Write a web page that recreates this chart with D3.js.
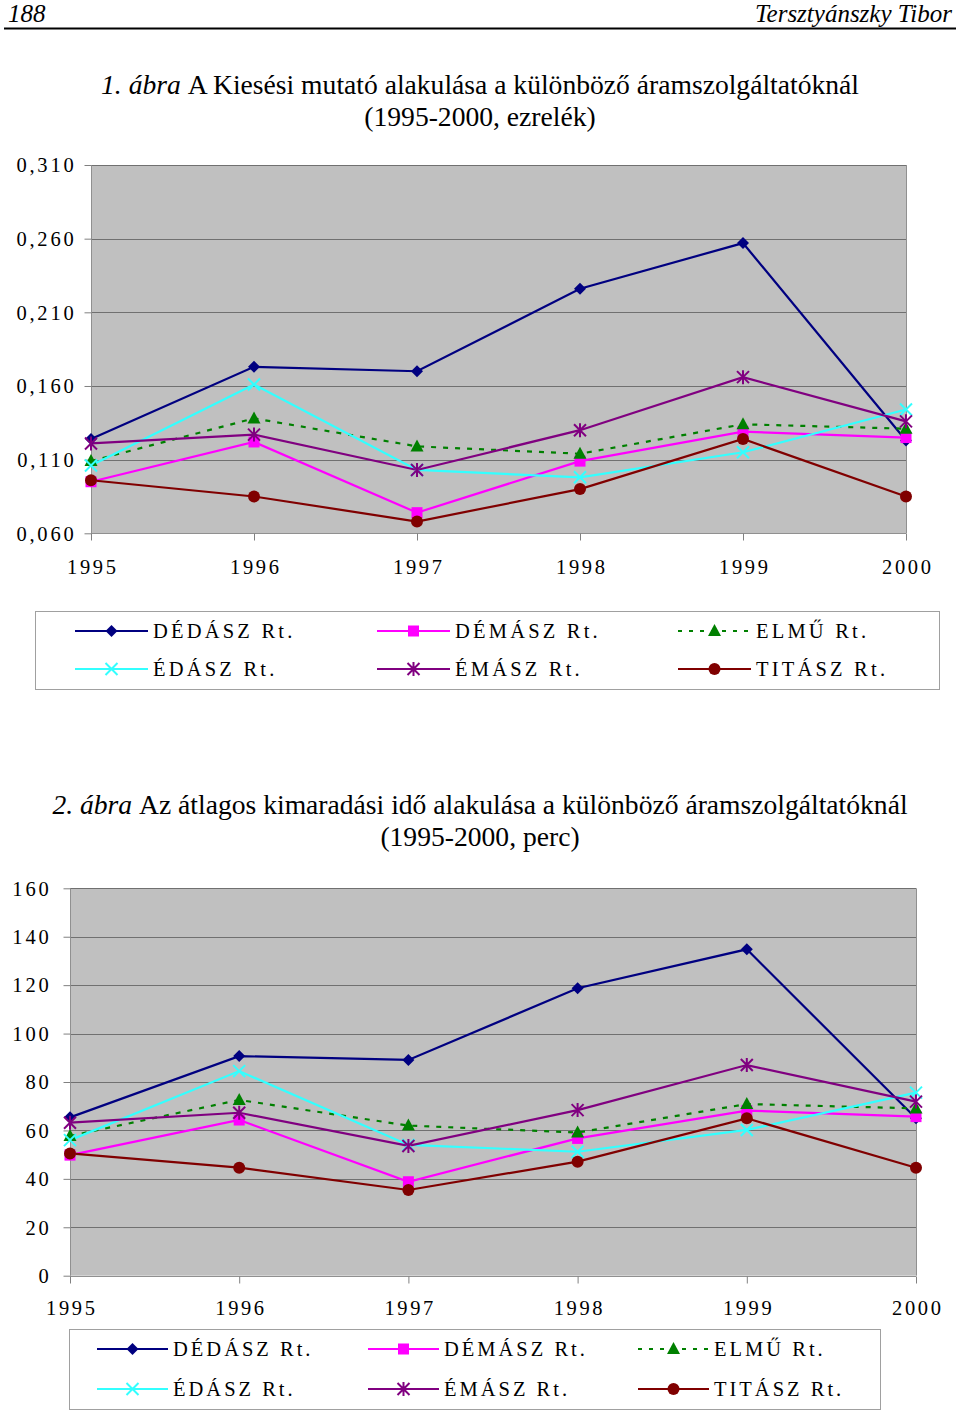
<!DOCTYPE html>
<html><head><meta charset="utf-8">
<script src="https://cdn.jsdelivr.net/npm/d3@7"></script>
<style>body{margin:0;background:#fff}svg{display:block}</style>
</head><body>
<svg id="c" width="960" height="1411"></svg>
<script>
const years = ["1995","1996","1997","1998","1999","2000"];
const seriesNames = ["DÉDÁSZ Rt.","DÉMÁSZ Rt.","ELMŰ Rt.","ÉDÁSZ Rt.","ÉMÁSZ Rt.","TITÁSZ Rt."];
// Chart 1: Kiesési mutató (ezrelék)
const dedasz1 = [0.124,0.173,0.170,0.226,0.257,0.123];
const demasz1 = [0.095,0.122,0.074,0.109,0.129,0.125];
const elmu1   = [0.109,0.138,0.119,0.114,0.134,0.131];
const edasz1  = [0.106,0.161,0.103,0.098,0.115,0.144];
const emasz1  = [0.121,0.127,0.103,0.130,0.166,0.136];
const titasz1 = [0.096,0.085,0.068,0.090,0.124,0.085];
const yTicks1 = [0.060,0.110,0.160,0.210,0.260,0.310];
// Chart 2: átlagos kimaradási idő (perc)
const dedasz2 = [65.4,90.7,89.1,118.7,134.8,65.0];
const demasz2 = [49.8,64.3,38.8,56.7,68.2,65.7];
const elmu2   = [57.7,72.6,62.0,59.1,70.9,69.1];
const edasz2  = [56.0,84.5,54.0,51.2,60.2,75.6];
const emasz2  = [63.2,67.3,53.6,68.4,87.0,71.9];
const titasz2 = [50.5,44.6,35.4,47.1,65.0,44.6];
const yTicks2 = [0,20,40,60,80,100,120,140,160];

const styles = [
  {color:"#000080", marker:"diamond", dash:null},
  {color:"#ff00ff", marker:"square", dash:null},
  {color:"#008000", marker:"triangle", dash:"5,7"},
  {color:"#33ffff", marker:"x", dash:null},
  {color:"#800080", marker:"asterisk", dash:null},
  {color:"#800000", marker:"circle", dash:null}
];

const svg = d3.select("#c");
const serif = "'Liberation Serif','Times New Roman',serif";

// Header
svg.append("text").attr("x",8).attr("y",22).attr("font-family",serif).attr("font-style","italic")
  .attr("font-size",25).text("188");
svg.append("text").attr("x",952).attr("y",22).attr("text-anchor","end").attr("font-family",serif)
  .attr("font-style","italic").attr("font-size",25).text("Tersztyánszky Tibor");
svg.append("line").attr("x1",4).attr("x2",956).attr("y1",28.5).attr("y2",28.5).attr("stroke","#000").attr("stroke-width",2);

function title(y1, num, rest, line2){
  const t = svg.append("text").attr("x",480).attr("y",y1).attr("text-anchor","middle")
    .attr("font-family",serif).attr("font-size",27.6);
  t.append("tspan").attr("font-style","italic").text(num+" ");
  t.append("tspan").text(rest);
  svg.append("text").attr("x",480).attr("y",y1+32).attr("text-anchor","middle")
    .attr("font-family",serif).attr("font-size",27.6).text(line2);
}
title(94,"1. ábra","A Kiesési mutató alakulása a különböző áramszolgáltatóknál","(1995-2000, ezrelék)");
title(814,"2. ábra","Az átlagos kimaradási idő alakulása a különböző áramszolgáltatóknál","(1995-2000, perc)");

function marker(g, type, x, y, color){
  const s = 6;
  if(type==="diamond"){
    g.append("path").attr("d",`M${x},${y-s}L${x+s},${y}L${x},${y+s}L${x-s},${y}Z`).attr("fill",color);
  } else if(type==="square"){
    g.append("rect").attr("x",x-5.5).attr("y",y-5.5).attr("width",11).attr("height",11).attr("fill",color);
  } else if(type==="triangle"){
    g.append("path").attr("d",`M${x},${y-7}L${x+6.5},${y+5}L${x-6.5},${y+5}Z`).attr("fill",color);
  } else if(type==="circle"){
    g.append("circle").attr("cx",x).attr("cy",y).attr("r",6).attr("fill",color);
  } else if(type==="x"){
    g.append("path").attr("d",`M${x-6},${y-6}L${x+6},${y+6}M${x+6},${y-6}L${x-6},${y+6}`)
      .attr("stroke",color).attr("stroke-width",2);
  } else if(type==="asterisk"){
    g.append("path").attr("d",`M${x-6},${y-6}L${x+6},${y+6}M${x+6},${y-6}L${x-6},${y+6}M${x},${y-7}L${x},${y+7}`)
      .attr("stroke",color).attr("stroke-width",2);
  }
}

function chart(cfg){
  const x = d3.scalePoint().domain(years).range([cfg.left,cfg.right]);
  const y = d3.scaleLinear().domain([cfg.ticks[0],cfg.ticks[cfg.ticks.length-1]]).range([cfg.bottom,cfg.top]);
  const g = svg.append("g");
  g.append("rect").attr("x",cfg.left).attr("y",cfg.top).attr("width",cfg.right-cfg.left)
    .attr("height",cfg.bottom-cfg.top).attr("fill","#c0c0c0");
  // gridlines
  g.selectAll(".grid").data(cfg.ticks).enter().append("line")
    .attr("x1",cfg.left).attr("x2",cfg.right).attr("y1",d=>Math.round(y(d))+0.5).attr("y2",d=>Math.round(y(d))+0.5)
    .attr("stroke","#707070").attr("stroke-width",1);
  g.append("line").attr("x1",cfg.right+0.5).attr("x2",cfg.right+0.5).attr("y1",cfg.top).attr("y2",cfg.bottom)
    .attr("stroke","#909090");
  // y axis
  const ya = d3.axisLeft(y).tickValues(cfg.ticks).tickSize(7).tickPadding(cfg.ypad).tickFormat(cfg.fmt);
  const yg = g.append("g").attr("transform",`translate(${cfg.left+0.5},0)`).call(ya);
  yg.select(".domain").attr("stroke","#909090").attr("d",`M0,${cfg.top}V${cfg.bottom}`);
  yg.selectAll(".tick line").attr("stroke","#808080");
  yg.selectAll("text").attr("font-family",serif).attr("font-size",20.5).attr("fill","#000")
    .attr("letter-spacing","2.8px").attr("dy","0.33em");
  // x axis
  const xa = d3.axisBottom(x).tickSize(7).tickPadding(cfg.xpad);
  const xg = g.append("g").attr("transform",`translate(0,${Math.round(cfg.bottom)+0.5})`).call(xa);
  xg.select(".domain").attr("stroke","#909090").attr("d",`M${cfg.left},0H${cfg.right}`);
  xg.selectAll(".tick line").attr("stroke","#808080");
  xg.selectAll("text").attr("font-family",serif).attr("font-size",20.5).attr("fill","#000")
    .attr("letter-spacing","2.6px").attr("dx","1.3px");
  // series
  const line = d3.line().x((d,i)=>x(years[i])).y(d=>y(d));
  cfg.data.forEach((vals,si)=>{
    const st = styles[si];
    g.append("path").attr("d",line(vals)).attr("fill","none").attr("stroke",st.color)
      .attr("stroke-width",2.2).attr("stroke-dasharray",st.dash);
  });
  cfg.data.forEach((vals,si)=>{
    const st = styles[si];
    vals.forEach((v,i)=>marker(g,st.marker,x(years[i]),y(v),st.color));
  });
  // legend
  const L = cfg.legend;
  g.append("rect").attr("x",L.x+0.5).attr("y",L.y+0.5).attr("width",L.w).attr("height",L.h)
    .attr("fill","#fff").attr("stroke","#a0a0a0");
  seriesNames.forEach((name,i)=>{
    const col = i%3, row = Math.floor(i/3);
    const lx = L.cols[col], ly = L.rows[row];
    const st = styles[i];
    g.append("line").attr("x1",lx).attr("x2",lx+L.lw).attr("y1",ly).attr("y2",ly)
      .attr("stroke",st.color).attr("stroke-width",2.2).attr("stroke-dasharray",st.dash?"4,7":null);
    marker(g,st.marker,lx+L.lw/2,ly,st.color);
    g.append("text").attr("x",lx+L.lw+5).attr("y",ly).attr("dy","0.35em").attr("font-family",serif)
      .attr("font-size",20.5).attr("letter-spacing",L.ls).text(name);
  });
}

chart({left:91,right:906,top:165,bottom:533.3,ticks:yTicks1,fmt:d=>d3.format(".3f")(d).replace(".",","),
  ypad:8,xpad:19,
  data:[dedasz1,demasz1,elmu1,edasz1,emasz1,titasz1],
  legend:{x:35,y:611,w:904,h:78,cols:[75,377,678],rows:[631,669],lw:73,ls:"3.2px"}});
chart({left:70,right:916,top:888.3,bottom:1275.7,ticks:yTicks2,fmt:d=>String(d),
  ypad:12,xpad:17,
  data:[dedasz2,demasz2,elmu2,edasz2,emasz2,titasz2],
  legend:{x:69,y:1329,w:811,h:80,cols:[97,368,638],rows:[1349,1389],lw:71,ls:"3px"}});
</script>
</body></html>
